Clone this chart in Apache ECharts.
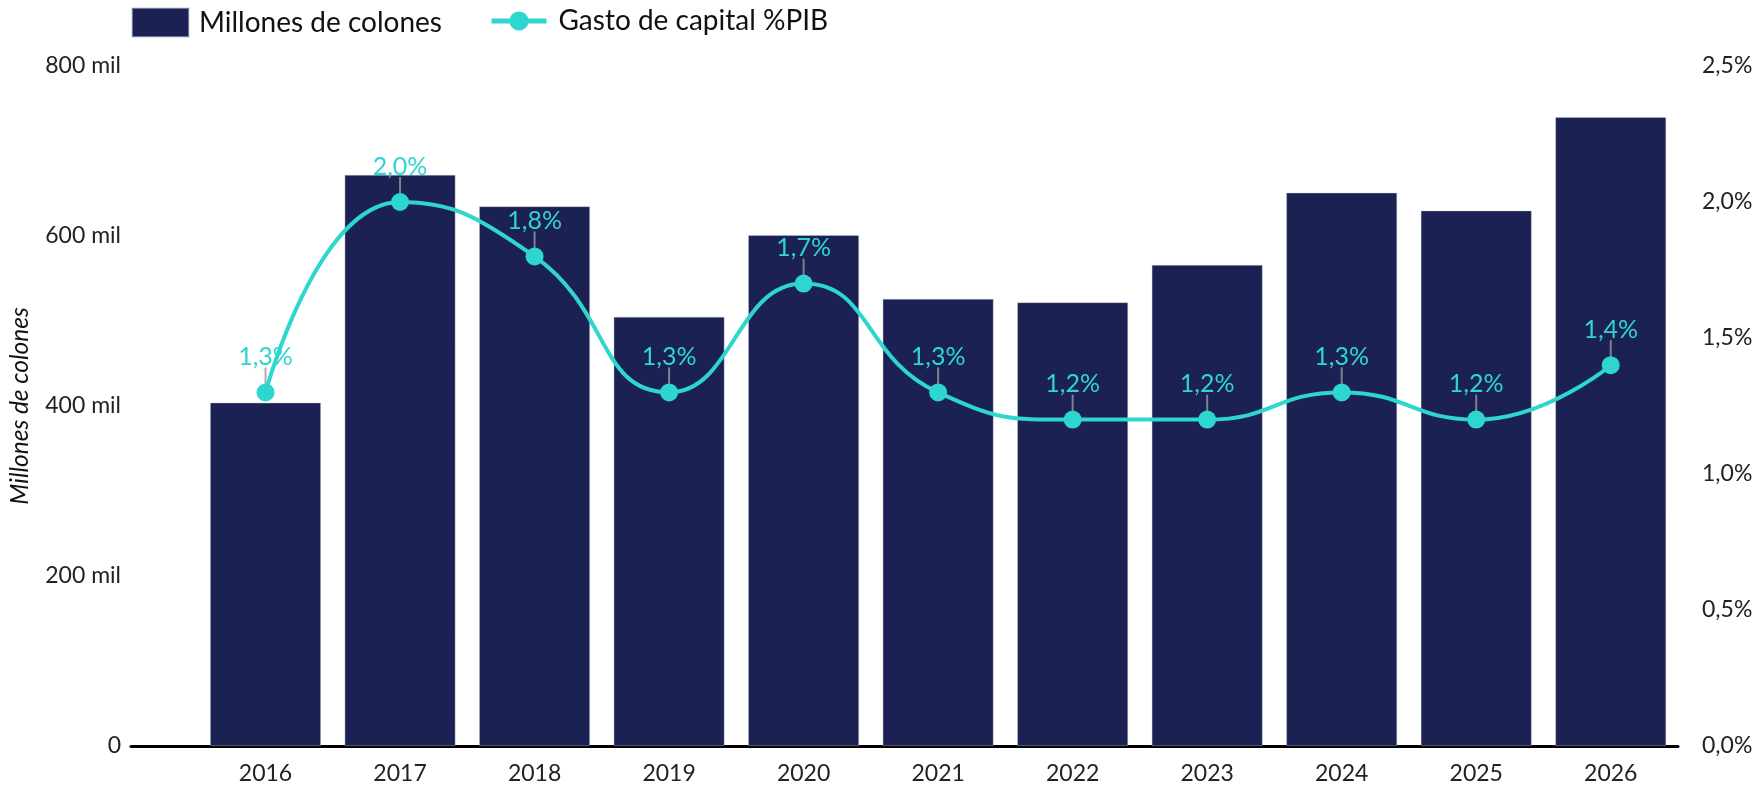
<!DOCTYPE html>
<html>
<head>
<meta charset="utf-8">
<script src="https://cdn.jsdelivr.net/npm/echarts@6/dist/echarts.min.js"></script>
<style>
html,body{margin:0;padding:0;background:#fff;}
#chart{width:1759px;height:788px;}
</style>
</head>
<body>
<div id="chart"></div>
<script>
var years = ['2016','2017','2018','2019','2020','2021','2022','2023','2024','2025','2026'];
var millones = [404000, 672000, 635000, 505000, 601000, 526000, 522000, 566000, 651000, 630000, 740000];
var gastoPIB = [1.3, 2.0, 1.8, 1.3, 1.7, 1.3, 1.2, 1.2, 1.3, 1.2, 1.4];
var leftTicks = [0, 200000, 400000, 600000, 800000];
var rightTicks = [0, 0.5, 1.0, 1.5, 2.0, 2.5];

var NAVY = '#1b2152';
var TEAL = '#2dd6cf';
var FONT = 'Lato';

var barData = millones.map(function(v, i){ return [i, v]; });
var lineData = gastoPIB.map(function(v, i){ return [i, v]; });

var chart = echarts.init(document.getElementById('chart'), null, {renderer:'canvas'});
chart.setOption({
  animation: false,
  textStyle: {fontFamily: FONT},
  legend: [{
    left: 131, top: 7, padding: 0,
    itemWidth: 57, itemHeight: 29,
    icon: 'rect',
    data: ['Millones de colones'],
    textStyle: {fontFamily: FONT, fontSize: 28, color: '#111', padding: [0,0,0,5]}
  },{
    left: 489, top: 7, padding: 0,
    itemWidth: 55, itemHeight: 24,
    lineStyle: {width: 5},
    data: ['Gasto de capital %PIB'],
    textStyle: {fontFamily: FONT, fontSize: 28, color: '#111', padding: [0,0,0,7]}
  }],
  grid: {left: 131, right: 81, top: 66, bottom: 42, containLabel: false},
  xAxis: {
    type: 'value', min: -1, max: 10.5, interval: 1,
    axisLine: {show: true, lineStyle: {color: '#000', width: 3}},
    axisTick: {show: false},
    splitLine: {show: false},
    axisLabel: {
      fontFamily: FONT, fontSize: 23, color: '#222', margin: 16,
      showMinLabel: true, showMaxLabel: true,
      formatter: function(v){ return (Number.isInteger(v) && v >= 0 && v < years.length) ? years[v] : ''; }
    }
  },
  yAxis: [{
    type: 'value', min: leftTicks[0], max: leftTicks[leftTicks.length-1], interval: 200000,
    axisLine: {show: false}, axisTick: {show: false}, splitLine: {show: false},
    name: 'Millones de colones', nameLocation: 'middle', nameRotate: 90, nameGap: 98,
    nameTextStyle: {fontFamily: FONT, fontStyle: 'italic', fontSize: 24.5, color: '#111'},
    axisLabel: {
      fontFamily: FONT, fontSize: 23, color: '#222', margin: 10,
      formatter: function(v){ return v === 0 ? '0' : (v/1000) + ' mil'; }
    }
  },{
    type: 'value', min: rightTicks[0], max: rightTicks[rightTicks.length-1], interval: 0.5,
    axisLine: {show: false}, axisTick: {show: false}, splitLine: {show: false},
    axisLabel: {
      fontFamily: FONT, fontSize: 23, color: '#222', margin: 24,
      formatter: function(v){ return v.toFixed(1).replace('.', ',') + '%'; }
    }
  }],
  series: [{
    name: 'Millones de colones',
    type: 'bar',
    data: barData,
    barWidth: 111,
    z: 1,
    itemStyle: {color: NAVY, borderColor: 'rgba(200,205,225,0.5)', borderWidth: 0.8}
  },{
    name: 'leader',
    type: 'scatter',
    yAxisIndex: 1,
    data: lineData,
    symbol: 'rect',
    symbolSize: [2, 20],
    symbolOffset: [0, -15],
    itemStyle: {color: '#999'},
    silent: true,
    z: 2
  },{
    name: 'Gasto de capital %PIB',
    type: 'line',
    yAxisIndex: 1,
    data: lineData,
    smooth: 0.5,
    smoothMonotone: null,
    symbol: 'circle',
    symbolSize: 18,
    z: 3,
    lineStyle: {color: TEAL, width: 4},
    itemStyle: {color: TEAL},
    label: {
      show: true, position: 'top', distance: 14,
      fontFamily: FONT, fontSize: 25, color: TEAL,
      formatter: function(p){ return p.value[1].toFixed(1).replace('.', ',') + '%'; }
    }
  }]
});
</script>
</body>
</html>
